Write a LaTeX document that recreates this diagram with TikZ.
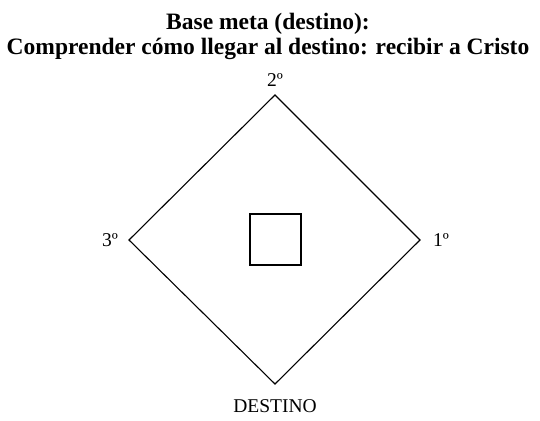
\documentclass[tikz,border=0pt]{standalone}
\usepackage{fontspec}
\setmainfont{Liberation Serif}
\usetikzlibrary{positioning}
\tikzset{
  edge/.style={draw=black,line width=1.1pt,line join=miter},
  inner box/.style={draw=black,line width=1.1pt,minimum width=51pt,minimum height=51pt,inner sep=0pt},
  corner/.style={inner sep=0pt,font=\fontsize{19.5}{23}\selectfont},
  headline/.style={align=center,font=\fontsize{23.5}{25}\selectfont\bfseries},
}
\begin{document}
\begin{tikzpicture}[x=1pt,y=1pt]
  \useasboundingbox (0,0) rectangle (540,420);
  % title
  \node[headline] (title) at (268,383.5)
    {Base meta (destino):\\Comprender cómo llegar al destino: recibir a Cristo};
  % diamond corners
  \coordinate (top) at (275,325);
  \coordinate (right) at (420,180);
  \coordinate (bottom) at (275,36);
  \coordinate (left) at (129,180);
  \draw[edge] (top) -- (right) -- (bottom) -- (left) -- cycle;
  \node[inner box] (goal) at (275.5,180.5) {};
  % labels
  \node[corner,above=8pt of top] (second) {2º};
  \node[corner,right=13pt of right] (first) {1º};
  \node[corner,left=11pt of left] (third) {3º};
  \node[corner,below=15pt of bottom] (dest) {DESTINO};
\end{tikzpicture}
\end{document}
